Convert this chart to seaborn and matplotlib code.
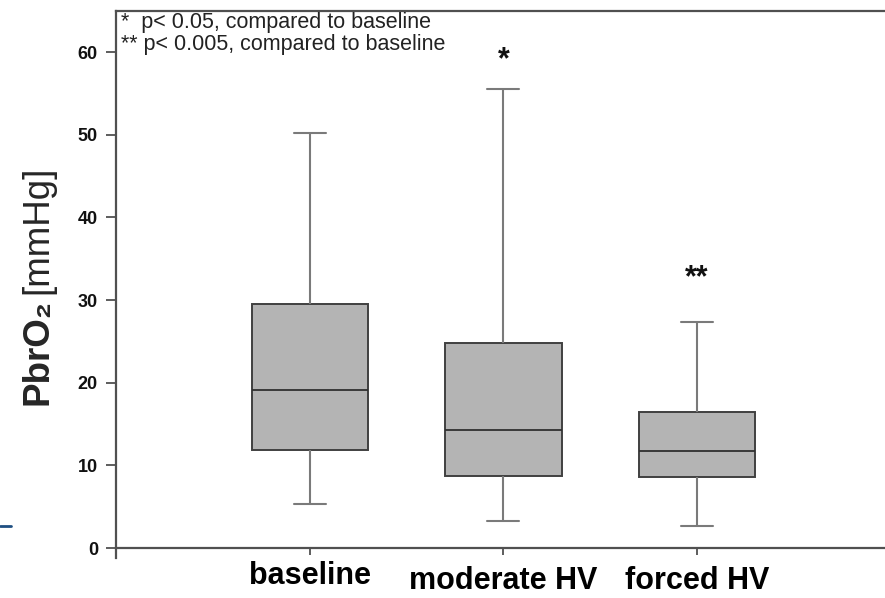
import numpy as np
import pandas as pd
import matplotlib
matplotlib.use("Agg")
import matplotlib.pyplot as plt
import matplotlib.transforms as mtransforms
import seaborn as sns

# Five-number summaries of PbrO2 (mmHg) per ventilation condition
groups = ["baseline", "moderate HV", "forced HV"]
whisker_low = [5.3, 3.3, 2.7]
q1 = [11.9, 8.75, 8.55]
median = [19.1, 14.3, 11.7]
q3 = [29.5, 24.8, 16.4]
whisker_high = [50.2, 55.5, 27.4]

# Significance markers and note text
markers = ["", "*", "**"]
marker_y = [0, 59.0, 32.6]
notes = ["*  p< 0.05, compared to baseline", "** p< 0.005, compared to baseline"]
y_ticks = [0, 10, 20, 30, 40, 50, 60]

# Long-form table: min, Q1, median, Q3, max for each group
rows = []
for g, lo, a, m, b, hi in zip(groups, whisker_low, q1, median, q3, whisker_high):
    for v in (lo, a, m, b, hi):
        rows.append({"group": g, "PbrO2": v})
df = pd.DataFrame(rows)

sns.set_style("white")
plt.rcParams["font.family"] = ["Liberation Sans", "DejaVu Sans"]

fig = plt.figure(figsize=(8.85, 5.98), dpi=100)
ax = fig.add_axes([116 / 885, 0.0669, 1 - 116 / 885, 0.9152])

sns.boxplot(
    data=df, x="group", y="PbrO2", order=groups, ax=ax,
    whis=(0, 100), width=0.6, color="#b4b4b4", saturation=1,
    linecolor="#404040", linewidth=1.4, showfliers=False,
    whiskerprops={"color": "#7a7a7a", "linewidth": 1.5},
    capprops={"color": "#7a7a7a", "linewidth": 1.5},
    medianprops={"color": "#303030", "linewidth": 1.3},
    capwidths=0.165,
)

ax.set_xlim(-1, 2.97)
ax.set_ylim(-1.2, 65)
ax.set_yticks(y_ticks)
ax.set_yticklabels([str(t) for t in y_ticks])
ax.set_xticks(range(len(groups)))
ax.set_xticklabels(groups)
ax.set_xlabel("")
ax.set_ylabel("")

for side in ("left", "bottom", "top"):
    ax.spines[side].set_color("#505050")
    ax.spines[side].set_linewidth(1.6)
ax.spines["right"].set_visible(False)
ax.spines["bottom"].set_position(("data", 0))

ax.tick_params(axis="y", direction="out", length=7, width=1.3, color="#505050",
               pad=6, left=True, labelsize=13, labelcolor="#111111")
ax.tick_params(axis="x", direction="out", length=5, width=1.3, color="#505050",
               pad=8, bottom=True, labelsize=22, labelcolor="black")
for lab in ax.get_yticklabels() + ax.get_xticklabels():
    lab.set_fontweight("bold")

# the first category label sits a little higher
first = ax.get_xticklabels()[0]
first.set_transform(first.get_transform()
                    + mtransforms.ScaledTranslation(0, 4 / 72, fig.dpi_scale_trans))

for i, (mk, my) in enumerate(zip(markers, marker_y)):
    if mk:
        ax.text(i, my, mk, ha="center", va="center", fontsize=22,
                fontweight="bold", color="#111111")

ax.text(-0.975, 63.6, notes[0], ha="left", va="center", fontsize=15.5, color="#222222")
ax.text(-0.975, 60.9, notes[1], ha="left", va="center", fontsize=15.5, color="#222222")

# y-axis title: bold symbol, regular unit
t1 = fig.text(38 / 885, 1 - 405 / 598, "PbrO₂", rotation=90, fontsize=26.5,
              fontweight="bold", ha="center", va="bottom")
fig.canvas.draw()
bb = t1.get_window_extent()
fig.text(38 / 885, (bb.y1 + 5) / 598, "[mmHg]", rotation=90, fontsize=26.5,
         ha="center", va="bottom")

# short blue rule at the left edge
fig.add_artist(plt.Line2D([0, 11 / 885], [1 - 526 / 598] * 2, color="#1f4f82", linewidth=2))

fig.savefig("out.png", dpi=100)
